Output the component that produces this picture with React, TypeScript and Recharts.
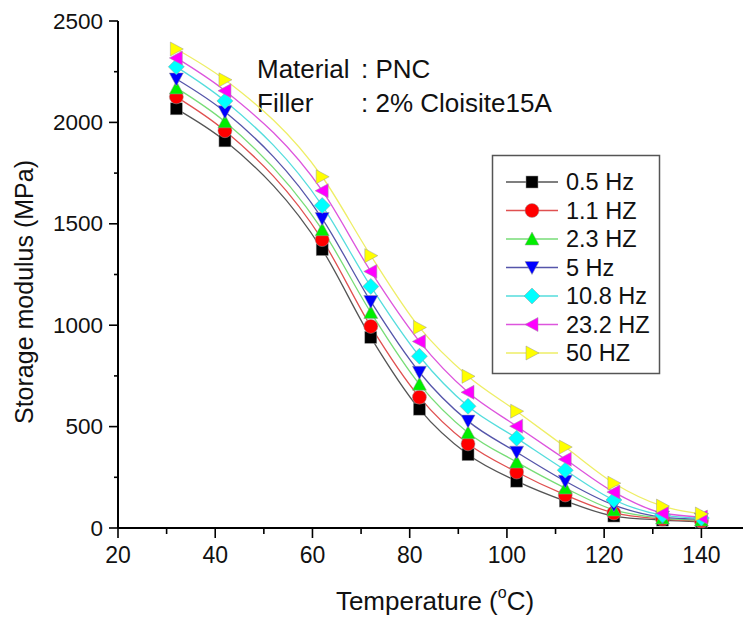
import React from "react";
import { LineChart, Line, XAxis, YAxis } from "recharts";

const temps = [32, 42, 62, 72, 82, 92, 102, 112, 122, 132, 140];
const hz05 = [2067, 1909, 1373, 940, 586, 362, 231, 133, 59, 39, 30];
const hz11 = [2126, 1959, 1422, 994, 645, 415, 276, 163, 74, 44, 34];
const hz23 = [2170, 2003, 1471, 1063, 709, 470, 325, 197, 89, 49, 39];
const hz5 = [2214, 2052, 1526, 1117, 768, 527, 374, 231, 113, 54, 44];
const hz108 = [2274, 2106, 1590, 1191, 847, 600, 443, 285, 138, 64, 49];
const hz232 = [2318, 2156, 1663, 1265, 920, 669, 502, 339, 177, 74, 54];
const hz50 = [2362, 2210, 1732, 1343, 989, 748, 576, 399, 221, 108, 69];

const xTicks = [20, 30, 40, 50, 60, 70, 80, 90, 100, 110, 120, 130, 140, 150];
const yTicks = [0, 250, 500, 750, 1000, 1250, 1500, 1750, 2000, 2250, 2500];

type Shape = "square" | "circle" | "up" | "down" | "diamond" | "left" | "right";

const series: { key: string; name: string; values: number[]; marker: string; line: string; shape: Shape }[] = [
  { key: "a", name: "0.5 Hz", values: hz05, marker: "#000000", line: "#555555", shape: "square" },
  { key: "b", name: "1.1 HZ", values: hz11, marker: "#ff0000", line: "#e05050", shape: "circle" },
  { key: "c", name: "2.3 HZ", values: hz23, marker: "#00ee00", line: "#77dd77", shape: "up" },
  { key: "d", name: "5 Hz", values: hz5, marker: "#0000ff", line: "#5555aa", shape: "down" },
  { key: "e", name: "10.8 Hz", values: hz108, marker: "#00ffff", line: "#55dddd", shape: "diamond" },
  { key: "f", name: "23.2 HZ", values: hz232, marker: "#ff00ff", line: "#dd55dd", shape: "left" },
  { key: "g", name: "50 HZ", values: hz50, marker: "#ffff00", line: "#eeee66", shape: "right" },
];

const data = temps.map((t, i) => {
  const row: Record<string, number> = { t };
  series.forEach((s) => (row[s.key] = s.values[i]));
  return row;
});

const FONT = "'Liberation Sans', Arial, sans-serif";

function Marker({ cx, cy, shape, color }: { cx: number; cy: number; shape: Shape; color: string }) {
  const r = 7;
  const st = { fill: color, stroke: "#999", strokeWidth: 0.5 };
  switch (shape) {
    case "square":
      return <rect x={cx - 6} y={cy - 6} width={12} height={12} {...st} />;
    case "circle":
      return <circle cx={cx} cy={cy} r={r} {...st} />;
    case "up":
      return <polygon points={`${cx},${cy - r} ${cx + r},${cy + r - 1} ${cx - r},${cy + r - 1}`} {...st} />;
    case "down":
      return <polygon points={`${cx},${cy + r} ${cx + r},${cy - r + 1} ${cx - r},${cy - r + 1}`} {...st} />;
    case "diamond":
      return <polygon points={`${cx},${cy - r - 1} ${cx + r + 1},${cy} ${cx},${cy + r + 1} ${cx - r - 1},${cy}`} {...st} />;
    case "left":
      return <polygon points={`${cx - r},${cy} ${cx + r - 1},${cy - r} ${cx + r - 1},${cy + r}`} {...st} />;
    default:
      return <polygon points={`${cx + r},${cy} ${cx - r + 1},${cy - r} ${cx - r + 1},${cy + r}`} {...st} />;
  }
}

function makeDot(shape: Shape, color: string) {
  // eslint-disable-next-line @typescript-eslint/no-explicit-any
  return (p: any) => <Marker key={p.key ?? p.index} cx={p.cx} cy={p.cy} shape={shape} color={color} />;
}

// eslint-disable-next-line @typescript-eslint/no-explicit-any
function XTick({ x, y, payload }: any) {
  const major = payload.value % 20 === 0;
  return (
    <g>
      <line x1={x} x2={x} y1={y} y2={y + (major ? 10 : 6)} stroke="#000" strokeWidth={1.6} />
      {major && payload.value <= 140 && (
        <text x={x} y={y + 35} textAnchor="middle" fontSize={23} fontFamily={FONT} fill="#111">
          {payload.value}
        </text>
      )}
    </g>
  );
}

// eslint-disable-next-line @typescript-eslint/no-explicit-any
function YTick({ x, y, payload }: any) {
  const major = payload.value % 500 === 0;
  return (
    <g>
      <line x1={x} x2={x - (major ? 9 : 4)} y1={y} y2={y} stroke="#000" strokeWidth={1.6} />
      {major && (
        <text x={x - 15} y={y + 7.5} textAnchor="end" fontSize={22.5} fontFamily={FONT} fill="#111">
          {payload.value}
        </text>
      )}
    </g>
  );
}

export default function App() {
  return (
    <div style={{ position: "absolute", left: 0, top: 0, width: 743, height: 618, overflow: "hidden", background: "#fff" }}>
      <LineChart width={750} height={618} data={data} margin={{ top: 21, right: 0, left: 58, bottom: 30 }}>
        <XAxis
          dataKey="t"
          type="number"
          domain={[20, 150]}
          ticks={xTicks}
          tick={<XTick />}
          tickSize={0}
          tickMargin={0}
          tickLine={false}
          axisLine={{ stroke: "#000", strokeWidth: 2 }}
          height={60}
          interval={0}
        />
        <YAxis
          type="number"
          domain={[0, 2500]}
          ticks={yTicks}
          tick={<YTick />}
          tickSize={0}
          tickMargin={0}
          tickLine={false}
          axisLine={{ stroke: "#000", strokeWidth: 2 }}
          width={60}
          interval={0}
        />
        {series.map((s) => (
          <Line
            key={s.key}
            dataKey={s.key}
            name={s.name}
            type="monotone"
            stroke={s.line}
            strokeWidth={1.3}
            dot={makeDot(s.shape, s.marker)}
            activeDot={false}
            isAnimationActive={false}
          />
        ))}
        <text x={257} y={78} fontSize={26} fontFamily={FONT} fill="#111">Material</text>
        <text x={361} y={78} fontSize={26} fontFamily={FONT} fill="#111">: PNC</text>
        <text x={257} y={112} fontSize={26} fontFamily={FONT} fill="#111">Filler</text>
        <text x={361} y={112} fontSize={26} fontFamily={FONT} fill="#111">: 2% Cloisite15A</text>
        <text
          x={33}
          y={292}
          transform="rotate(-90 33 292)"
          textAnchor="middle"
          fontSize={25}
          fontFamily={FONT}
          fill="#111"
        >
          Storage modulus (MPa)
        </text>
        <text x={435} y={610} textAnchor="middle" fontSize={26} fontFamily={FONT} fill="#111">
          Temperature (<tspan fontSize={16} dy={-12}>o</tspan>
          <tspan dy={12}>C)</tspan>
        </text>
        <g>
          <rect x={492.5} y={155.5} width={167} height={218} fill="#fff" stroke="#555" strokeWidth={1.5} />
          {series.map((s, i) => {
            const cy = 182 + i * 28.5;
            return (
              <g key={s.key}>
                <line x1={506} x2={558} y1={cy} y2={cy} stroke={s.line} strokeWidth={1.3} />
                <Marker cx={532} cy={cy} shape={s.shape} color={s.marker} />
                <text x={566} y={cy + 8} fontSize={23.5} fontFamily={FONT} fill="#111">
                  {s.name}
                </text>
              </g>
            );
          })}
        </g>
      </LineChart>
    </div>
  );
}
